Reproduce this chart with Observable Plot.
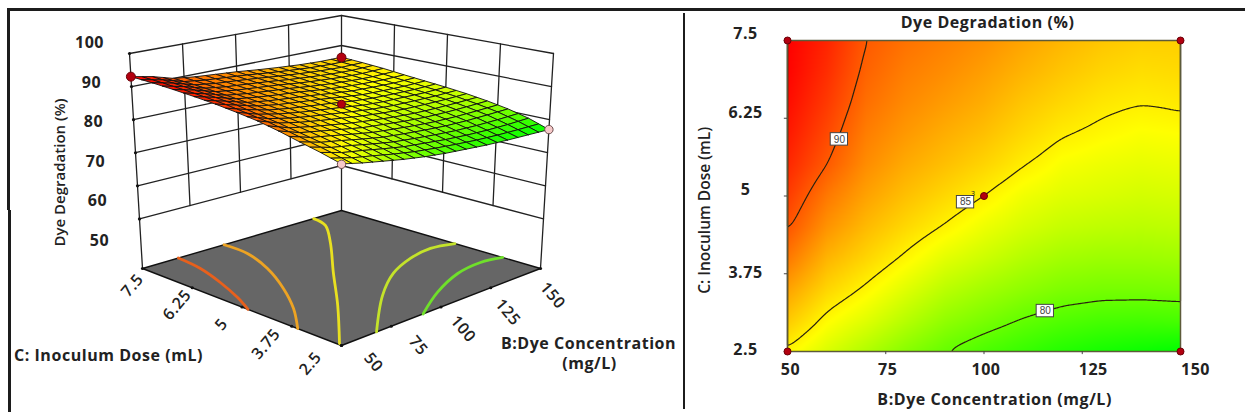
<!DOCTYPE html>
<html><head><meta charset="utf-8">
<script src="https://cdn.jsdelivr.net/npm/d3@7"></script>
<script src="https://cdn.jsdelivr.net/npm/@observablehq/plot@0.6"></script>
<style>
html,body{margin:0;padding:0;background:#fff;overflow:hidden}
#page{position:relative;width:1245px;height:415px;display:flex}
#page svg{display:block;flex:none;overflow:visible}
.bar{position:absolute;background:#1c1c1c}
g.wide text{letter-spacing:.55px}
</style></head><body><div id="page"></div>
<script>
const bLevels=[50,55,60,65,70,75,80,85,90,95,100,105,110,115,120,125,130,135,140,145,150];
const cLevels=[2.5,2.75,3,3.25,3.5,3.75,4,4.25,4.5,4.75,5,5.25,5.5,5.75,6,6.25,6.5,6.75,7,7.25,7.5];
const degradation=[
[84.8,84.1,83.4,82.8,82.2,81.6,81.0,80.5,80.0,79.6,79.2,78.9,78.6,78.3,78.0,77.8,77.6,77.45,77.3,77.15,77.0],
[85.55,84.8,84.03,83.45,82.9,82.3,81.7,81.18,80.65,80.28,79.9,79.58,79.25,78.98,78.7,78.53,78.35,78.25,78.15,78.1,78.05],
[86.3,85.5,84.65,84.1,83.6,83.0,82.4,81.85,81.3,80.95,80.6,80.25,79.9,79.65,79.4,79.25,79.1,79.05,79.0,79.05,79.1],
[86.95,86.13,85.28,84.73,84.2,83.6,83.0,82.45,81.9,81.55,81.2,80.88,80.55,80.3,80.05,79.93,79.8,79.78,79.75,79.8,79.85],
[87.6,86.75,85.9,85.35,84.8,84.2,83.6,83.05,82.5,82.15,81.8,81.5,81.2,80.95,80.7,80.6,80.5,80.5,80.5,80.55,80.6],
[88.3,87.38,86.45,85.9,85.35,84.78,84.2,83.65,83.1,82.75,82.4,82.08,81.75,81.5,81.25,81.15,81.05,81.05,81.05,81.1,81.15],
[89.0,88.0,87.0,86.45,85.9,85.35,84.8,84.25,83.7,83.35,83.0,82.65,82.3,82.05,81.8,81.7,81.6,81.6,81.6,81.65,81.7],
[89.6,88.58,87.55,86.95,86.35,85.83,85.3,84.8,84.3,83.9,83.5,83.15,82.8,82.55,82.3,82.2,82.1,82.08,82.05,82.1,82.15],
[90.2,89.15,88.1,87.45,86.8,86.3,85.8,85.35,84.9,84.45,84.0,83.65,83.3,83.05,82.8,82.7,82.6,82.55,82.5,82.55,82.6],
[90.6,89.58,88.55,87.88,87.2,86.7,86.2,85.78,85.35,84.93,84.5,84.1,83.7,83.45,83.2,83.1,83.0,82.93,82.85,82.9,82.95],
[91.0,90.0,89.0,88.3,87.6,87.1,86.6,86.2,85.8,85.4,85.0,84.55,84.1,83.85,83.6,83.5,83.4,83.3,83.2,83.25,83.3],
[91.35,90.43,89.5,88.73,87.95,87.45,86.95,86.58,86.2,85.83,85.45,85.03,84.58,84.28,83.95,83.83,83.7,83.6,83.5,83.55,83.6],
[91.7,90.85,90.0,89.15,88.3,87.8,87.3,86.95,86.6,86.25,85.9,85.5,85.05,84.7,84.3,84.15,84.0,83.9,83.8,83.85,83.9],
[91.95,91.13,90.3,89.43,88.55,88.08,87.6,87.25,86.9,86.58,86.25,85.85,85.43,85.08,84.7,84.53,84.35,84.23,84.1,84.15,84.2],
[92.2,91.4,90.6,89.7,88.8,88.35,87.9,87.55,87.2,86.9,86.6,86.2,85.8,85.45,85.1,84.9,84.7,84.55,84.4,84.45,84.5],
[92.4,91.63,90.85,89.95,89.05,88.6,88.15,87.83,87.5,87.2,86.9,86.5,86.1,85.78,85.45,85.23,85.0,84.85,84.73,84.78,84.85],
[92.6,91.85,91.1,90.2,89.3,88.85,88.4,88.1,87.8,87.5,87.2,86.8,86.4,86.1,85.8,85.55,85.3,85.15,85.05,85.1,85.2],
[92.75,92.03,91.3,90.4,89.5,89.05,88.6,88.33,88.05,87.75,87.45,87.08,86.7,86.4,86.1,85.85,85.6,85.45,85.33,85.38,85.45],
[92.9,92.2,91.5,90.6,89.7,89.25,88.8,88.55,88.3,88.0,87.7,87.35,87.0,86.7,86.4,86.15,85.9,85.75,85.6,85.65,85.7],
[92.95,92.3,91.65,90.75,89.85,89.43,89.0,88.75,88.5,88.23,87.95,87.6,87.25,86.95,86.65,86.4,86.15,86.0,85.85,85.88,85.9],
[93.0,92.4,91.8,90.9,90.0,89.6,89.2,88.95,88.7,88.45,88.2,87.85,87.5,87.2,86.9,86.65,86.4,86.25,86.1,86.1,86.1]];
const bTicks=[50,75,100,125,150];
const cTicks=[2.5,3.75,5,6.25,7.5];
const zTicks=[50,60,70,80,90,100];
const zFloor=35;
const runB=[50,150,100,50,150], runC=[7.5,7.5,5,2.5,2.5], runZ=[93,86,86,84.7,77];
const floorLevels=[90,87.5,85,82.5,80];
const floorColors=["#e8601c","#eda323","#e8e020","#c4e32a","#6fe02a"];
const floorB=[[68,66.3,61.5,55.4,50],[91,90.5,84.4,74,62.5,50],[136,133.3,120.8,98.5,75.9,50.8],[150,140.5,128,112.6,94,67.6],[150,141.2,127.8,109.4,91]];
const floorC=[[7.5,6.86,6.12,5.38,4.85],[7.5,6.89,6.08,5.16,4.33,3.6],[7.5,7.07,6.32,5.13,3.89,2.59],[4.65,4.79,4.67,4.33,3.67,2.5],[3.45,3.57,3.47,3.06,2.5]];
const contourLevels=[80,85,90];
const contourLabelB=[115.6,95.3,63.2], contourLabelC=[3.15,4.9,5.91];

const font="Open Sans, sans-serif";
const colorScale={type:"linear",domain:[77,84.5,93],range:["#00ff00","#ffff00","#ff0000"],interpolate:"rgb"};

// View of the response-surface box: bilinear floor and top planes
function project(B,C,z){
  const u=(B-50)/100,v=(C-2.5)/5,w=(z-zFloor)/(100-zFloor);
  const x0=341+199*(u-v),y0=345-77*(u+v)+19*u*v;
  const x1=341+212*(u-v),y1=108-55*(u+v)+17*u*v;
  return {x:x0+(x1-x0)*w,y:y0+(y1-y0)*w};
}
const polyline=(pts,id)=>pts.map(([B,C,z])=>({...project(B,C,z),id}));

// Surface cells, back to front
const cells=[];
for(let j=19;j>=0;j--)for(let i=19;i>=0;i--){
  const q=[[i,j],[i+1,j],[i+1,j+1],[i,j+1],[i,j]];
  const mean=(degradation[j][i]+degradation[j][i+1]+degradation[j+1][i]+degradation[j+1][i+1])/4;
  q.forEach(([a,b])=>cells.push({...project(bLevels[a],cLevels[b],degradation[b][a]),id:j*100+i,z:mean}));
}
// Walls
const wall=[];
zTicks.forEach(z=>wall.push(...polyline([[50,7.5,z],[150,7.5,z],[150,2.5,z]],"z"+z)));
wall.push(...polyline([[50,7.5,zFloor],[50,7.5,100]],"L"),...polyline([[150,2.5,zFloor],[150,2.5,100]],"R"),...polyline([[150,7.5,zFloor],[150,7.5,100]],"K"));
[75,100,125].forEach(b=>wall.push(...polyline([[b,7.5,50],[b,7.5,100]],"b"+b)));
[3.75,5,6.25].forEach(c=>wall.push(...polyline([[150,c,50],[150,c,100]],"c"+c)));
const floor=polyline([[50,2.5,zFloor],[150,2.5,zFloor],[150,7.5,zFloor],[50,7.5,zFloor],[50,2.5,zFloor]],"floor");
const floorTicks=[...bTicks.map(b=>project(b,2.5,zFloor)),...cTicks.map(c=>project(50,c,zFloor)),...zTicks.map(z=>project(50,7.5,z))];
const runs=runB.map((b,i)=>project(b,runC[i],runZ[i]));

const T=(txt,x,y,o={})=>Plot.text([txt],{x:()=>x,y:()=>y,text:d=>d,fontFamily:font,fontWeight:700,fill:"#222",className:"wide",...o});

const left=Plot.plot({
  width:685,height:415,margin:0,
  x:{domain:[0,685],range:[0,685],axis:null},
  y:{domain:[0,415],range:[0,415],axis:null},
  color:colorScale,
  style:{background:"transparent",fontFamily:font},
  marks:[
    Plot.line(wall,{x:"x",y:"y",z:"id",stroke:"#222",strokeWidth:1.3}),
    Plot.line(floor,{x:"x",y:"y",z:"id",fill:"#666",stroke:"#111",strokeWidth:1.4}),
    ...floorLevels.map((l,k)=>Plot.line(floorB[k].map((b,i)=>project(b,floorC[k][i],zFloor)),{x:"x",y:"y",stroke:floorColors[k],strokeWidth:2.8,curve:"catmull-rom"})),
    Plot.dot(floorTicks,{x:"x",y:"y",r:1.6,fill:"#111"}),
    Plot.line(cells,{x:"x",y:"y",z:"id",fill:"z",stroke:"#111",strokeWidth:1,strokeOpacity:0.9}),
    Plot.dot([runs[3],runs[4]],{x:"x",y:"y",r:4.2,fill:"#f6c9c9",stroke:"#6a4a4a",strokeWidth:1}),
    Plot.dot([runs[0],runs[1]],{x:"x",y:"y",r:4.5,fill:"#b3000f",stroke:"#6a0008",strokeWidth:1}),
    Plot.dot([runs[2]],{x:"x",y:"y",r:4,fill:"#b3000f",stroke:"#6a0008",strokeWidth:1}),
    ...zTicks.map(z=>{const p=project(50,7.5,z);return T(String(z),p.x-40,p.y-10.5+(100-z)*0.64,{fontSize:16});}),
    ...bTicks.map(b=>{const p=project(b,2.5,zFloor),u=(b-50)/100;return T(String(b),p.x+32-20*u,p.y+17+10*u,{fontSize:16,rotate:50,fontWeight:600});}),
    ...cTicks.map(c=>{const p=project(50,c,zFloor),v=(c-2.5)/5;return T(String(c),p.x-31+21*v,p.y+18-1*v,{fontSize:16,rotate:-50,fontWeight:600});}),
    T("Dye Degradation (%)",60,172,{rotate:-90,fontSize:15,fontWeight:600,className:"tight"}),
    T("C: Inoculum Dose (mL)",108,355,{fontSize:16}),
    T("B:Dye Concentration",588,343,{fontSize:16}),
    T("(mg/L)",589,363,{fontSize:16})
  ]
});

const grid=[];
cLevels.forEach((C,j)=>bLevels.forEach((B,i)=>grid.push({B,C,z:degradation[j][i]})));
const bShift=[3,2,2,11,15], cShift=[-2,-1,-6,-5,-7];
const R=(txt,B,C,o={})=>Plot.text([txt],{x:()=>B,y:()=>C,text:d=>d,fontFamily:font,fontWeight:700,fill:"#222",className:"wide",...o});
const right=Plot.plot({
  width:560,height:415,marginLeft:102,marginRight:65,marginTop:40,marginBottom:64,
  x:{domain:[50,150],axis:null},
  y:{domain:[2.5,7.5],axis:null},
  color:colorScale,
  style:{background:"transparent",fontFamily:font},
  marks:[
    Plot.raster(grid,{x:"B",y:"C",fill:"z",interpolate:"barycentric"}),
    Plot.contour(grid,{x:"B",y:"C",value:"z",interpolate:"barycentric",thresholds:contourLevels,stroke:"#2a2210",fill:"none",strokeWidth:1.2,pixelSize:1,blur:5}),
    Plot.frame({stroke:"#5c5a3a",strokeWidth:1.5}),
    Plot.ruleX(bTicks,{x:d=>d,y1:2.5,y2:2.45,stroke:"#444"}),
    Plot.ruleY(cTicks,{y:d=>d,x1:50,x2:49.2,stroke:"#444"}),
    Plot.rect(contourLevels,{x1:(d,i)=>contourLabelB[i]-2.2,x2:(d,i)=>contourLabelB[i]+2.2,y1:(d,i)=>contourLabelC[i]-0.1,y2:(d,i)=>contourLabelC[i]+0.1,fill:"white",stroke:"#444",strokeWidth:1}),
    Plot.text(contourLevels,{x:(d,i)=>contourLabelB[i],y:(d,i)=>contourLabelC[i],text:d=>String(d),fontSize:10,fontFamily:"Liberation Sans",fill:"#444"}),
    R("3",97.3,5.04,{fontSize:7,fontWeight:400}),
    Plot.dot(bTicks.flatMap((b,i)=>i===0||i===4?[{b,c:2.5},{b,c:7.5}]:[]).concat([{b:100,c:5}]),{x:"b",y:"c",r:3.5,fill:"#b3000f",stroke:"#6a0008",strokeWidth:1}),
    ...bTicks.map((b,i)=>R(String(b),b,2.5,{dy:18,dx:bShift[i],fontSize:16})),
    ...cTicks.map((c,i)=>R(String(c),50,c,{dx:-42,dy:cShift[i],fontSize:16})),
    R("Dye Degradation (%)",100.9,7.5,{dy:-18,fontSize:16}),
    R("B:Dye Concentration (mg/L)",102.7,2.5,{dy:48,fontSize:16}),
    R("C: Inoculum Dose (mL)",50,4.77,{dx:-82,rotate:-90,fontSize:15.5,fontWeight:600,className:"tight"})
  ]
});
const page=document.getElementById("page");
page.append(left,right);
[["7px","8px","2.5px","202px"],["8px","210px","2.5px","202px"],["7px","8px","1238px","2.5px"],["682.5px","13px","2.5px","396px"]].forEach(([l,t,w,h])=>{
  const d=document.createElement("div");d.className="bar";d.style.cssText=`left:${l};top:${t};width:${w};height:${h}`;page.append(d);
});
</script></body></html>
